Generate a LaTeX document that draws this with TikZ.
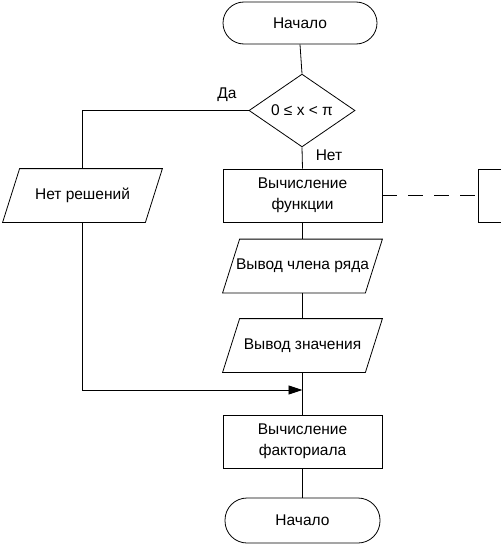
\documentclass[tikz,border=0pt]{standalone}
\usepackage{fontspec}
\setmainfont{Liberation Sans}
\usetikzlibrary{shapes.geometric,arrows.meta}
\begin{document}
\begin{tikzpicture}[x=1pt,y=-1pt,line width=0.8pt,
  every node/.style={font=\fontsize{15.5}{21}\selectfont, align=center, inner sep=0pt},
  term/.style={draw, rectangle, rounded corners=21pt, minimum width=154pt, minimum height=42pt},
  proc/.style={draw, rectangle, minimum width=159pt, minimum height=53pt},
  io/.style={rectangle, minimum width=159pt, minimum height=53pt},
  dec/.style={draw, diamond, minimum width=106pt, minimum height=66pt},
  lbl/.style={font=\fontsize{15.5}{18}\selectfont}
]
\useasboundingbox (0,0) rectangle (501,546);
\node[term] (start) at (300,23) {Начало};
\node[dec] (cond) at (302,110.5) {0 ≤ x < π};
\node[io] (nosol) at (82.5,195.5) {Нет решений};
\node[proc] (f1) at (302.5,195.5) {Вычисление\\функции};
\node[io] (out1) at (302.5,266) {Вывод члена ряда};
\node[io] (out2) at (302.5,345.5) {Вывод значения};
\coordinate (merge) at (302.5,390);
\node[proc] (f2) at (302.5,441.5) {Вычисление\\факториала};
\node[term, minimum width=155pt, minimum height=45pt, rounded corners=22pt] (end) at (302.5,520.5) {Начало};
\coordinate (brtop) at (478,169);
\coordinate (brbot) at (478,222);
\coordinate (brmid) at (478,195.5);
\node[lbl] (da) at (227,95) {Да};
\node[lbl] (net) at (329,155) {Нет};

\foreach \n in {nosol,out1,out2}
  \draw ([xshift=17pt]\n.north west) -- (\n.north east)
        -- ([xshift=-17pt]\n.south east) -- (\n.south west) -- cycle;

\draw (start.south) -- (cond.north);
\draw (cond.west) -| (nosol.north);
\draw (cond.south) -- (f1.north);
\draw (f1) -- (out1);
\draw (out1) -- (out2);
\draw (out2.south) -- (f2.north);
\draw (f2) -- (end);
\draw[-{Triangle[length=14pt,width=9pt]}] (nosol.south) |- (merge);
\draw[dash pattern=on 15pt off 11pt] (f1.east) -- (brmid);
\draw (501,169) -- (brtop) -- (brbot) -- (501,222);
\end{tikzpicture}
\end{document}
